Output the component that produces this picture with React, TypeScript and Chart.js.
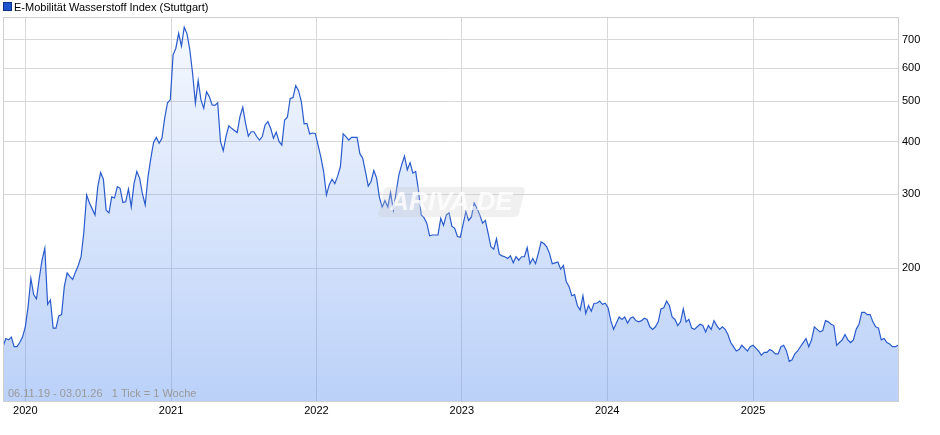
import React, { useEffect, useRef } from "react";
import { Chart, registerables } from "chart.js";

Chart.register(...registerables);

const TITLE = "E-Mobilität Wasserstoff Index (Stuttgart)";
const RANGE_NOTE = "06.11.19 - 03.01.26   1 Tick = 1 Woche";
const WATERMARK = "ARIVA.DE";
const START_DATE = "2019-11-06";
const END_DATE = "2026-01-03";

// weekly closes, starting 06.11.2019
const WEEKLY_CLOSE = [
  130, 136, 135, 137, 130, 130, 133, 137, 145, 162,
  189, 173, 169, 189, 209, 223, 164, 168, 144, 144,
  154, 155, 181, 195, 191, 188, 196, 203, 213, 244,
  299, 286, 277, 268, 313, 338, 326, 275, 271, 296,
  294, 313, 310, 287, 288, 309, 280, 318, 340, 328,
  301, 283, 330, 365, 399, 410, 397, 408, 456, 496,
  504, 645, 669, 726, 677, 751, 724, 663, 583, 495,
  560, 504, 481, 527, 513, 490, 489, 496, 401, 381,
  413, 437, 431, 426, 421, 460, 484, 443, 413, 423,
  423, 412, 404, 412, 439, 447, 431, 408, 422, 401,
  393, 451, 458, 508, 510, 545, 530, 499, 442, 443,
  418, 420, 419, 393, 368, 340, 299, 316, 326, 318,
  331, 349, 418, 412, 404, 410, 410, 410, 375, 366,
  340, 314, 322, 342, 328, 295, 280, 290, 280, 303,
  275, 304, 334, 353, 370, 343, 357, 337, 340, 307,
  268, 264, 256, 239, 240, 240, 240, 263, 253, 268,
  271, 252, 249, 238, 237, 254, 273, 260, 265, 286,
  278, 268, 256, 260, 242, 225, 222, 235, 216, 214,
  213, 211, 214, 206, 213, 209, 213, 213, 224, 205,
  211, 205, 217, 231, 229, 225, 217, 205, 206, 207,
  199, 203, 186, 181, 172, 173, 163, 159, 172, 156,
  163, 158, 165, 165, 167, 164, 165, 161, 150, 143,
  148, 153, 151, 153, 148, 152, 153, 150, 149, 150,
  152, 151, 145, 143, 145, 149, 160, 161, 167, 163,
  153, 151, 146, 149, 160, 149, 151, 144, 143, 145,
  147, 146, 141, 146, 143, 150, 146, 143, 145, 143,
  139, 133, 130, 127, 128, 131, 129, 127, 130, 131,
  129, 127, 124, 126, 126, 128, 127, 125, 125, 130,
  131, 127, 120, 121, 125, 127, 130, 133, 136, 130,
  135, 145, 143, 141, 142, 150, 149, 147, 146, 131,
  133, 135, 139, 135, 133, 135, 143, 147, 157, 157,
  155, 155, 149, 145, 144, 135, 136, 133, 132, 130,
  130, 131,
];

const Y_TICKS = [200, 300, 400, 500, 600, 700];
const YEAR_TICKS = [2020, 2021, 2022, 2023, 2024, 2025];
const Y_MIN = 96.5;
const Y_MAX = 794;

const FONT = "'Liberation Sans', Arial, Helvetica, sans-serif";
const DAY_MS = 86400000;

const decorPlugin = {
  id: "decor",
  afterDatasetsDraw(chart: any) {
    const { ctx, chartArea } = chart;
    const { left, top, right, bottom } = chartArea;
    ctx.save();
    // watermark
    const cx = (left + right) / 2 + 1;
    const cy = 202;
    ctx.beginPath();
    const bw = 148, bh = 30, sk = 6, r = 5;
    const x0 = cx - bw / 2, y0 = cy - bh / 2;
    ctx.moveTo(x0 + sk + r, y0);
    ctx.lineTo(x0 + bw - r, y0);
    ctx.quadraticCurveTo(x0 + bw, y0, x0 + bw - 1, y0 + r);
    ctx.lineTo(x0 + bw - sk, y0 + bh - r);
    ctx.quadraticCurveTo(x0 + bw - sk - 1, y0 + bh, x0 + bw - sk - r, y0 + bh);
    ctx.lineTo(x0 + r, y0 + bh);
    ctx.quadraticCurveTo(x0, y0 + bh, x0 + 1, y0 + bh - r);
    ctx.lineTo(x0 + sk, y0 + r);
    ctx.quadraticCurveTo(x0 + sk + 1, y0, x0 + sk + r, y0);
    ctx.closePath();
    ctx.fillStyle = "rgba(200,200,200,0.28)";
    ctx.fill();
    ctx.font = `italic bold 26px ${FONT}`;
    ctx.textAlign = "center";
    ctx.textBaseline = "middle";
    ctx.fillStyle = "rgba(255,255,255,0.8)";
    ctx.fillText(WATERMARK, cx, cy + 1);

    // range note
    ctx.font = `11px ${FONT}`;
    ctx.textAlign = "left";
    ctx.textBaseline = "alphabetic";
    ctx.fillStyle = "#9a9a9a";
    ctx.fillText(RANGE_NOTE, left + 5, bottom - 4);

    // frame
    ctx.strokeStyle = "#cfcfcf";
    ctx.lineWidth = 1;
    ctx.strokeRect(left + 0.5, top + 0.5, right - left, bottom - top);
    ctx.restore();
  },
  afterDraw(chart: any) {
    const { ctx } = chart;
    ctx.save();
    ctx.fillStyle = "#1f55cc";
    ctx.fillRect(4, 3, 7, 7);
    ctx.strokeStyle = "#0d2f86";
    ctx.lineWidth = 1;
    ctx.strokeRect(3.5, 2.5, 8, 8);
    ctx.font = `11px ${FONT}`;
    ctx.fillStyle = "#000";
    ctx.textAlign = "left";
    ctx.textBaseline = "alphabetic";
    ctx.fillText(TITLE, 14, 11);
    ctx.restore();
  },
};

export default function App() {
  const canvasRef = useRef<HTMLCanvasElement | null>(null);

  useEffect(() => {
    document.body.style.margin = "0";
    const canvas = canvasRef.current;
    if (!canvas) return;
    const start = Date.parse(START_DATE + "T00:00:00Z");
    const end = Date.parse(END_DATE + "T00:00:00Z");
    const points = WEEKLY_CLOSE.map((v, i) => ({ x: start + i * 7 * DAY_MS, y: v }));
    const lastX = points[points.length - 1].x;

    const chart = new Chart(canvas, {
      type: "line",
      data: {
        datasets: [
          {
            label: TITLE,
            data: points,
            borderColor: "#2a5bcc",
            borderWidth: 1.2,
            pointRadius: 0,
            tension: 0,
            fill: "start",
            backgroundColor: (context: any) => {
              const area = context.chart.chartArea;
              if (!area) return "rgba(100,150,240,0.3)";
              const g = context.chart.ctx.createLinearGradient(0, area.top, 0, area.bottom);
              g.addColorStop(0, "rgba(100,150,240,0.05)");
              g.addColorStop(1, "rgba(100,150,240,0.44)");
              return g;
            },
          },
        ],
      },
      options: {
        animation: false,
        responsive: false,
        devicePixelRatio: 1,
        layout: { padding: { left: 3, top: 17, right: 0, bottom: 0 } },
        plugins: { legend: { display: false }, tooltip: { enabled: false } },
        scales: {
          x: {
            type: "linear",
            min: start,
            max: Math.max(lastX, end - 3 * DAY_MS),
            afterBuildTicks: (scale: any) => {
              scale.ticks = YEAR_TICKS.map((y) => ({ value: Date.UTC(y, 0, 1) }));
            },
            afterFit: (scale: any) => {
              scale.height = 34;
            },
            ticks: {
              callback: (value: any) => String(new Date(value).getUTCFullYear()),
              font: { family: FONT, size: 11 },
              color: "#000",
              padding: 3,
              maxRotation: 0,
              autoSkip: false,
            },
            grid: { color: "#d8d8d8", drawTicks: false },
            border: { display: false },
          },
          y: {
            type: "logarithmic",
            position: "right",
            min: Y_MIN,
            max: Y_MAX,
            afterBuildTicks: (scale: any) => {
              scale.ticks = Y_TICKS.map((v) => ({ value: v }));
            },
            afterFit: (scale: any) => {
              scale.width = 42;
            },
            ticks: {
              callback: (value: any) => String(value),
              font: { family: FONT, size: 11 },
              color: "#000",
              padding: 4,
              autoSkip: false,
            },
            grid: { color: "#d8d8d8", drawTicks: false },
            border: { display: false },
          },
        },
      },
      plugins: [decorPlugin],
    } as any);

    return () => chart.destroy();
  }, []);

  return (
    <div style={{ width: 940, height: 435, position: "relative" }}>
      <canvas ref={canvasRef} width={940} height={435} style={{ display: "block" }} />
    </div>
  );
}
